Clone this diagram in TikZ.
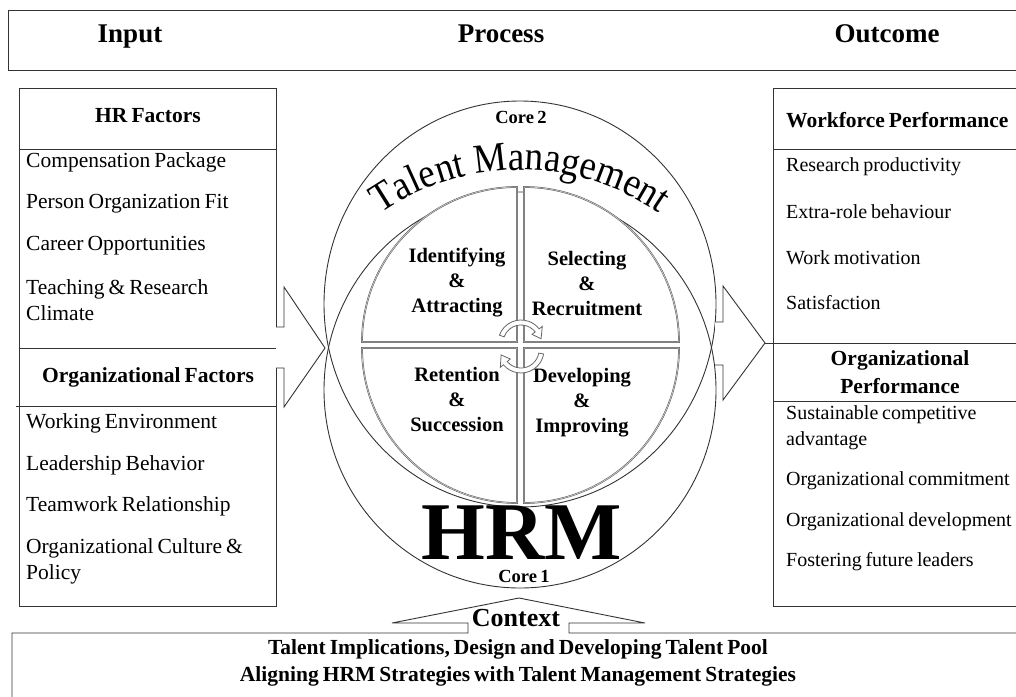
\documentclass[tikz,border=0pt]{standalone}
\usepackage{fontspec}
\setmainfont[WordSpace=0.75]{Liberation Serif}
\newfontfamily\archfont[FakeStretch=0.9]{Liberation Serif}
\usetikzlibrary{decorations.text,calc}

\begin{document}
\begin{tikzpicture}[x=1pt,y=1pt,
  line/.style={draw=black!80, line width=0.9pt},
  item/.style={anchor=west, inner sep=0pt, align=left, font=\fontsize{21.5}{26}\selectfont},
  ritem/.style={item, font=\fontsize{20}{26}\selectfont},
  head/.style={inner sep=0pt, align=center, font=\bfseries\fontsize{21.5}{28}\selectfont},
  title/.style={inner sep=0pt, anchor=base, font=\bfseries\fontsize{27}{30}\selectfont},
  quad/.style={draw=black!65, line width=0.5pt, double=black!20, double distance=0.7pt, fill=white},
  qlabel/.style={inner sep=0pt, align=center, font=\bfseries\fontsize{20.5}{25}\selectfont},
  core/.style={inner sep=0pt, font=\bfseries\fontsize{18.5}{20}\selectfont},
  cyc/.style={draw=black!60, fill=white, line width=0.8pt, line join=miter},
]
\useasboundingbox (0,0) rectangle (1016,-696);
\clip (0,0) rectangle (1016,-696);

% ---------- header strip ----------
\draw[line] (8,-10) rectangle (1040,-70);
\node[title] (input) at (130,-42) {Input};
\node[title] (process) at (501,-42) {Process};
\node[title] (outcome) at (887,-42) {Outcome};

% ---------- overlapping core ellipses ----------
\coordinate (tmc) at (520,-304);
\coordinate (hrc) at (520,-390);
\draw[line] (tmc) ellipse [x radius=196, y radius=203];
\draw[line] (hrc) ellipse [x radius=196, y radius=198];

% ---------- four talent-management quadrants ----------
\draw[quad] (517,-342) -- ++(-155,0) arc[start angle=180, end angle=90, radius=155] -- cycle;
\draw[quad] (524,-342) -- ++(0,155) arc[start angle=90, end angle=0, radius=155] -- cycle;
\draw[quad] (517,-348) -- ++(-155,0) arc[start angle=180, end angle=270, radius=155] -- cycle;
\draw[quad] (524,-348) -- ++(0,-155) arc[start angle=270, end angle=360, radius=155] -- cycle;

\node[qlabel] (ident) at (457,-283) {Identifying\\\&\\Attracting};
\node[qlabel] (select) at (587,-284) {Selecting\\\&\\Recruitment};
\node[qlabel] (retain) at (457,-400) {Retention\\\&\\Succession};
\node[qlabel] (develop) at (582,-403) {Developing\\\&\\Improving};

% ---------- cycle arrows in the middle ----------
\coordinate (c1) at (521,-343);
\coordinate (c2) at (521,-350);
\draw[cyc] ($(c1)+(160:23)$) arc[start angle=160, end angle=38, radius=23]
  -- ($(c1)+(38:27)$) -- ($(c1)+(12:20.5)$) -- ($(c1)+(38:14)$) -- ($(c1)+(38:18)$)
  arc[start angle=38, end angle=160, radius=18] -- cycle;
\draw[cyc] ($(c2)+(-10:23)$) arc[start angle=-10, end angle=-140, radius=23]
  -- ($(c2)+(-140:27)$) -- ($(c2)+(-166:20.5)$) -- ($(c2)+(-140:14)$) -- ($(c2)+(-140:18)$)
  arc[start angle=-140, end angle=-10, radius=18] -- cycle;

% ---------- core titles ----------
\node[core] (core2) at (521,-117) {Core 2};
\node[core] (core1) at (524,-576) {Core 1};
\coordinate (archc) at (520,-414);
\path[decorate, decoration={text along path, text align=center,
   text format delimiters={|}{|},
   text={|\archfont\fontsize{41}{41}\selectfont|Talent Management}}]
  ($(archc)+(132:244)$) arc[start angle=132, end angle=48, radius=244];
\node[inner sep=0pt, font=\bfseries\fontsize{82}{82}\selectfont] (hrm) at (522,-533) {HRM};

% ---------- input side ----------
\draw[line] (276,-327) -- (276,-88) -- (19,-88) -- (19,-606) -- (276,-606) -- (276,-368);
\draw[line] (19,-149) -- (276,-149);
\draw[line] (16,-406) -- (276,-406);
\draw[line] (19,-348) -- (325,-348);
\draw[line, fill=white] (276,-327) -- (284,-327) -- (284,-287) -- (325,-348) -- (284,-407) -- (284,-368) -- (276,-368);

\node[head] (hrf) at (148,-116) {HR Factors};
\node[item] (i1) at (26,-162) {Compensation Package};
\node[item] (i2) at (26,-204) {Person Organization Fit};
\node[item] (i3) at (26,-246) {Career Opportunities};
\node[item] (i4) at (26,-300) {Teaching \& Research\\Climate};
\node[head] (orgf) at (148,-377) {Organizational Factors};
\node[item] (i5) at (26,-423) {Working Environment};
\node[item] (i6) at (26,-465) {Leadership Behavior};
\node[item] (i7) at (26,-506) {Teamwork Relationship};
\node[item] (i8) at (26,-561) {Organizational Culture \&\\Policy};

% ---------- outcome side ----------
\draw[line] (1040,-88) -- (773,-88) -- (773,-606) -- (1040,-606);
\draw[line] (773,-149) -- (1040,-149);
\draw[line] (765,-343) -- (1040,-343);
\draw[line] (773,-401) -- (1040,-401);
\draw[line, fill=white] (715,-322) -- (723,-322) -- (723,-286) -- (765,-343) -- (723,-400) -- (723,-365) -- (715,-365);

\node[head, anchor=west] (wfp) at (786,-120) {Workforce Performance};
\node[ritem] (o1) at (786,-167) {Research productivity};
\node[ritem] (o2) at (786,-212) {Extra-role behaviour};
\node[ritem] (o3) at (786,-258) {Work motivation};
\node[ritem] (o4) at (786,-303) {Satisfaction};
\node[head] (orgp) at (900,-372) {Organizational\\Performance};
\node[ritem] (o5) at (786,-428) {Sustainable competitive\\advantage};
\node[ritem] (o6) at (786,-481) {Organizational commitment};
\node[ritem] (o7) at (786,-522) {Organizational development};
\node[ritem] (o8) at (786,-562) {Fostering future leaders};

% ---------- context ----------
\draw[line] (12,-720) -- (12,-633) -- (468,-633) -- (468,-623) -- (392,-623) -- (519,-598)
  -- (645,-623) -- (569,-623) -- (569,-633) -- (1040,-633);
\node[inner sep=0pt, font=\bfseries\fontsize{26}{28}\selectfont] (ctx) at (516,-618) {Context};
\node[head] (ctx1) at (518,-649) {Talent Implications, Design and Developing Talent Pool};
\node[head] (ctx2) at (518,-676) {Aligning HRM Strategies with Talent Management Strategies};
\end{tikzpicture}
\end{document}
